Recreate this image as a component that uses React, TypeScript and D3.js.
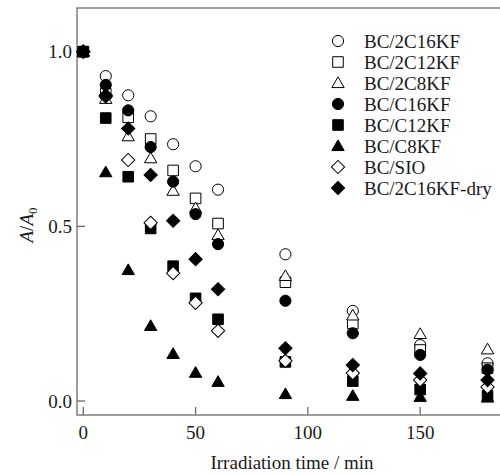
import * as d3 from "d3";

// Irradiation time (min)
const times = [0, 10, 20, 30, 40, 50, 60, 90, 120, 150, 180];

// A/A0 for each sample
const bc2C16KF = [1.0, 0.93, 0.875, 0.815, 0.735, 0.672, 0.605, 0.42, 0.258, 0.16, 0.108];
const bc2C12KF = [1.0, 0.88, 0.812, 0.75, 0.66, 0.58, 0.508, 0.34, 0.222, 0.146, 0.094];
const bc2C8KF = [1.0, 0.865, 0.758, 0.695, 0.602, 0.552, 0.475, 0.358, 0.245, 0.192, 0.148];
const bcC16KF = [1.0, 0.905, 0.832, 0.727, 0.628, 0.535, 0.449, 0.287, 0.194, 0.132, 0.09];
const bcC12KF = [1.0, 0.81, 0.642, 0.494, 0.386, 0.294, 0.234, 0.112, 0.057, 0.033, 0.015];
const bcC8KF = [1.0, 0.655, 0.375, 0.215, 0.135, 0.081, 0.055, 0.02, 0.015, 0.012, 0.01];
const bcSIO = [1.0, 0.872, 0.69, 0.51, 0.366, 0.281, 0.201, 0.115, 0.08, 0.06, 0.04];
const bc2C16KFdry = [1.0, 0.875, 0.78, 0.647, 0.516, 0.406, 0.32, 0.151, 0.103, 0.079, 0.06];

const xTicks = [0, 50, 100, 150];
const yTicks = [0, 0.5, 1.0];

type Shape = "circle" | "square" | "triangle" | "diamond";

const series: { name: string; values: number[]; shape: Shape; filled: boolean }[] = [
  { name: "BC/2C16KF", values: bc2C16KF, shape: "circle", filled: false },
  { name: "BC/2C12KF", values: bc2C12KF, shape: "square", filled: false },
  { name: "BC/2C8KF", values: bc2C8KF, shape: "triangle", filled: false },
  { name: "BC/C16KF", values: bcC16KF, shape: "circle", filled: true },
  { name: "BC/C12KF", values: bcC12KF, shape: "square", filled: true },
  { name: "BC/C8KF", values: bcC8KF, shape: "triangle", filled: true },
  { name: "BC/SIO", values: bcSIO, shape: "diamond", filled: false },
  { name: "BC/2C16KF-dry", values: bc2C16KFdry, shape: "diamond", filled: true },
];

const width = 500;
const height = 475;
const plot = { left: 77, top: 8, right: 510, bottom: 415 };
const font = "'Liberation Serif', 'Times New Roman', serif";
const axisColor = "#6b6b6b";
const fs = 19;

const symbolPath = (shape: Shape) => {
  if (shape === "circle") return d3.symbol(d3.symbolCircle, 98)()!;
  if (shape === "square") return d3.symbol(d3.symbolSquare, 112)()!;
  if (shape === "triangle") return d3.symbol(d3.symbolTriangle, 66)()!;
  return d3.symbol(d3.symbolSquare, 88)()!;
};

const Marker = ({ x, y, shape, filled }: { x: number; y: number; shape: Shape; filled: boolean }) => (
  <path
    d={symbolPath(shape)}
    transform={`translate(${x},${y})${shape === "diamond" ? " rotate(45)" : shape === "triangle" ? " translate(0,1)" : ""}`}
    fill={filled ? "#000" : "#fff"}
    stroke="#000"
    strokeWidth={1}
  />
);

export default function App() {
  const x = d3.scaleLinear().domain([-2.8, 190]).range([plot.left, plot.right]);
  const y = d3.scaleLinear().domain([-0.04, 1.125]).range([plot.bottom, plot.top]);
  const tickLen = 8;

  return (
    <svg
      width={width}
      height={height}
      style={{ position: "absolute", left: 0, top: 0, background: "#fff" }}
      fontFamily={font}
    >
      {/* frame */}
      <rect
        x={plot.left}
        y={plot.top}
        width={plot.right - plot.left}
        height={plot.bottom - plot.top}
        fill="none"
        stroke={axisColor}
        strokeWidth={1.3}
      />

      {/* x ticks */}
      {xTicks.map((t) => (
        <g key={`xt-${t}`}>
          <line x1={x(t)} x2={x(t)} y1={plot.bottom} y2={plot.bottom - tickLen} stroke={axisColor} strokeWidth={1.3} />
          <text x={x(t)} y={plot.bottom + 24} textAnchor="middle" fontSize={fs} fill="#1a1a1a">
            {t}
          </text>
        </g>
      ))}

      {/* y ticks */}
      {yTicks.map((t) => (
        <g key={`yt-${t}`}>
          <line x1={plot.left} x2={plot.left + tickLen} y1={y(t)} y2={y(t)} stroke={axisColor} strokeWidth={1.3} />
          <text x={plot.left - 5} y={y(t)} textAnchor="end" dominantBaseline="central" fontSize={fs} fill="#1a1a1a">
            {t.toFixed(1)}
          </text>
        </g>
      ))}

      {/* axis titles */}
      <text x={292} y={469} textAnchor="middle" fontSize={fs} fill="#1a1a1a">
        Irradiation time / min
      </text>
      <text
        transform={`translate(33,225) rotate(-90)`}
        textAnchor="middle"
        fontSize={fs}
        fill="#1a1a1a"
      >
        <tspan fontStyle="italic">A</tspan>/<tspan fontStyle="italic">A</tspan>
        <tspan fontSize={13} dy={4}>0</tspan>
      </text>

      {/* data */}
      {series.map((s) => (
        <g key={s.name}>
          {s.values.map((v, i) => (
            <Marker key={i} x={x(times[i])} y={y(v)} shape={s.shape} filled={s.filled} />
          ))}
        </g>
      ))}

      {/* legend */}
      {series.map((s, i) => {
        const ly = 41 + i * 21;
        return (
          <g key={`lg-${s.name}`}>
            <Marker x={338} y={ly} shape={s.shape} filled={s.filled} />
            <text x={364} y={ly} dominantBaseline="central" fontSize={fs} fill="#1a1a1a">
              {s.name}
            </text>
          </g>
        );
      })}
    </svg>
  );
}
